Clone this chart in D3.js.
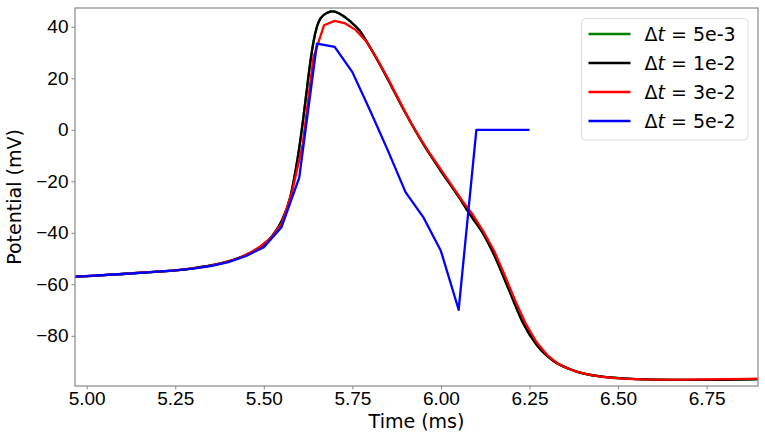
<!DOCTYPE html>
<html lang="en">
<head>
<meta charset="utf-8">
<title>Potential vs time</title>
<script src="https://d3js.org/d3.v7.min.js"></script>
<style>
  body { margin: 0; background: #fff; }
  svg { font-family: "DejaVu Sans", sans-serif; }
  .axis path, .axis line { stroke: #888; }
  .axis text { font-size: 19px; fill: #000; }
</style>
</head>
<body>
<div id="chart"></div>
<script>
// x ticks (ms) and y ticks (mV)
var xTicks = [5.00, 5.25, 5.50, 5.75, 6.00, 6.25, 6.50, 6.75];
var yTicks = [-80, -60, -40, -20, 0, 20, 40];

// dt = 1e-2 (black), read at irregular times
var tBlack = [4.95, 5.00, 5.10, 5.20, 5.25, 5.30, 5.35, 5.40, 5.45, 5.50, 5.525, 5.55, 5.575, 5.59, 5.60, 5.61, 5.62, 5.63, 5.64, 5.65, 5.66, 5.68, 5.695, 5.715, 5.745, 5.77, 5.80, 5.83, 5.86, 5.90, 5.95, 6.00, 6.05, 6.08, 6.12, 6.15, 6.19, 6.23, 6.27, 6.32, 6.375, 6.45, 6.55, 6.65, 6.75, 6.90];
var vBlack = [-57.1, -56.8, -56.0, -55.1, -54.6, -53.8, -52.7, -51.1, -48.6, -44.5, -41.0, -35.5, -26.0, -15.5, -7.0, 3.0, 14.0, 25.0, 34.0, 40.0, 43.3, 45.5, 46.0, 45.0, 42.0, 38.6, 32.0, 24.8, 17.0, 6.5, -5.5, -16.0, -26.0, -32.5, -40.5, -48.5, -61.5, -74.5, -83.5, -90.0, -93.5, -95.8, -96.8, -97.1, -97.1, -96.8];

// dt = 5e-3 (green) is drawn under the black trace and cannot be told apart from it
var tGreen = tBlack;
var vGreen = vBlack;

// dt = 3e-2 (red)
var tRed = [4.95, 4.98, 5.01, 5.04, 5.07, 5.10, 5.13, 5.16, 5.19, 5.22, 5.25, 5.28, 5.31, 5.34, 5.37, 5.40, 5.43, 5.46, 5.49, 5.52, 5.55, 5.58, 5.61, 5.64, 5.67, 5.70, 5.73, 5.76, 5.79, 5.82, 5.85, 5.88, 5.91, 5.94, 5.97, 6.00, 6.03, 6.06, 6.09, 6.12, 6.15, 6.18, 6.21, 6.24, 6.27, 6.30, 6.33, 6.36, 6.39, 6.42, 6.45, 6.48, 6.51, 6.57, 6.63, 6.69, 6.75, 6.81, 6.87, 6.90];
var vRed = [-57.1, -56.9, -56.7, -56.5, -56.2, -56.0, -55.7, -55.4, -55.2, -54.9, -54.6, -54.1, -53.6, -53.0, -52.2, -51.1, -49.8, -47.8, -45.3, -42.0, -36.5, -24.0, -5.5, 28.0, 40.6, 42.3, 41.3, 38.7, 34.2, 27.5, 20.0, 12.0, 4.0, -3.0, -9.5, -15.5, -21.5, -27.5, -33.0, -39.5, -47.0, -56.5, -66.5, -75.5, -82.5, -87.5, -90.8, -92.8, -94.2, -95.2, -95.9, -96.3, -96.6, -96.9, -97.0, -97.0, -96.9, -96.8, -96.7, -96.6];

// dt = 5e-2 (blue)
var tBlue = [4.95, 5.00, 5.05, 5.10, 5.15, 5.20, 5.25, 5.30, 5.35, 5.40, 5.45, 5.50, 5.55, 5.60, 5.65, 5.70, 5.75, 5.80, 5.85, 5.90, 5.95, 6.00, 6.05, 6.10, 6.15, 6.20, 6.25];
var vBlue = [-57.1, -56.8, -56.4, -56.0, -55.6, -55.1, -54.6, -53.9, -52.9, -51.4, -49.0, -45.6, -37.8, -18.6, 33.5, 32.2, 22.4, 7.5, -8.0, -24.2, -33.9, -47.1, -69.9, 0, 0, 0, 0];

var series = [
  { label: "5e-3", color: "#008000", t: tGreen, v: vGreen, curve: d3.curveMonotoneX },
  { label: "1e-2", color: "#000000", t: tBlack, v: vBlack, curve: d3.curveMonotoneX },
  { label: "3e-2", color: "#ff0000", t: tRed, v: vRed, curve: d3.curveLinear },
  { label: "5e-2", color: "#0000ff", t: tBlue, v: vBlue, curve: d3.curveLinear }
];

var w = 765, h = 436;
var margin = { top: 8, right: 7, bottom: 50, left: 75 };
var width = w - margin.left - margin.right, height = h - margin.top - margin.bottom;

var svg = d3.select("#chart").append("svg")
  .attr("width", w).attr("height", h)
  .append("g")
  .attr("transform", `translate(${margin.left},${margin.top})`);

var x = d3.scaleLinear().domain([4.967, 6.895]).range([0, width]);
var y = d3.scaleLinear().domain([-99.5, 47.3]).range([height, 0]);

svg.append("clipPath").attr("id", "plotclip")
  .append("rect").attr("width", width).attr("height", height);

// curves
var g_lines = svg.append("g").attr("clip-path", "url(#plotclip)");
series.forEach(function (s) {
  var pts = s.t.map((t, i) => [t, s.v[i]]);
  g_lines.append("path")
    .datum(pts)
    .attr("fill", "none")
    .attr("stroke", s.color)
    .attr("stroke-width", 2.3)
    .attr("stroke-linejoin", "round")
    .attr("d", d3.line().x(d => x(d[0])).y(d => y(d[1])).curve(s.curve));
});

// axes
svg.append("g").attr("class", "axis")
  .attr("transform", `translate(0,${height})`)
  .call(d3.axisBottom(x).tickValues(xTicks).tickFormat(d3.format(".2f"))
    .tickSize(3.5).tickPadding(2.5).tickSizeOuter(0));
svg.append("g").attr("class", "axis")
  .call(d3.axisLeft(y).tickValues(yTicks).tickFormat(d => d < 0 ? "\u2212" + Math.abs(d) : d)
    .tickSize(3.5).tickPadding(3).tickSizeOuter(0));
svg.selectAll(".axis .domain").remove();

// frame
svg.append("rect")
  .attr("width", width).attr("height", height)
  .attr("fill", "none").attr("stroke", "#888").attr("stroke-width", 1.2);

// axis titles
svg.append("text")
  .attr("x", width / 2).attr("y", height + 42)
  .attr("text-anchor", "middle").attr("font-size", "19px")
  .text("Time (ms)");
svg.append("text")
  .attr("transform", `translate(${21 - margin.left},${height / 2}) rotate(-90)`)
  .attr("text-anchor", "middle").attr("font-size", "19px")
  .text("Potential (mV)");

// legend
var legend = svg.append("g").attr("transform", `translate(${581.5 - margin.left},${18.5 - margin.top})`);
legend.append("rect")
  .attr("width", 166.5).attr("height", 121.5).attr("rx", 4)
  .attr("fill", "#fff").attr("fill-opacity", 0.8)
  .attr("stroke", "#ddd");
var rows = legend.selectAll("g.row")
  .data(series)
  .join("g")
  .attr("class", "row")
  .attr("transform", (d, i) => `translate(0,${15.5 + i * 29})`);
rows.append("line")
  .attr("x1", 7).attr("x2", 49)
  .attr("stroke", d => d.color).attr("stroke-width", 2.3);
var lt = rows.append("text")
  .attr("x", 63).attr("dy", "0.35em").attr("font-size", "19px");
lt.append("tspan").text("\u0394");
lt.append("tspan").attr("font-style", "italic").text("t");
lt.append("tspan").text(d => " = " + d.label);
</script>
</body>
</html>
